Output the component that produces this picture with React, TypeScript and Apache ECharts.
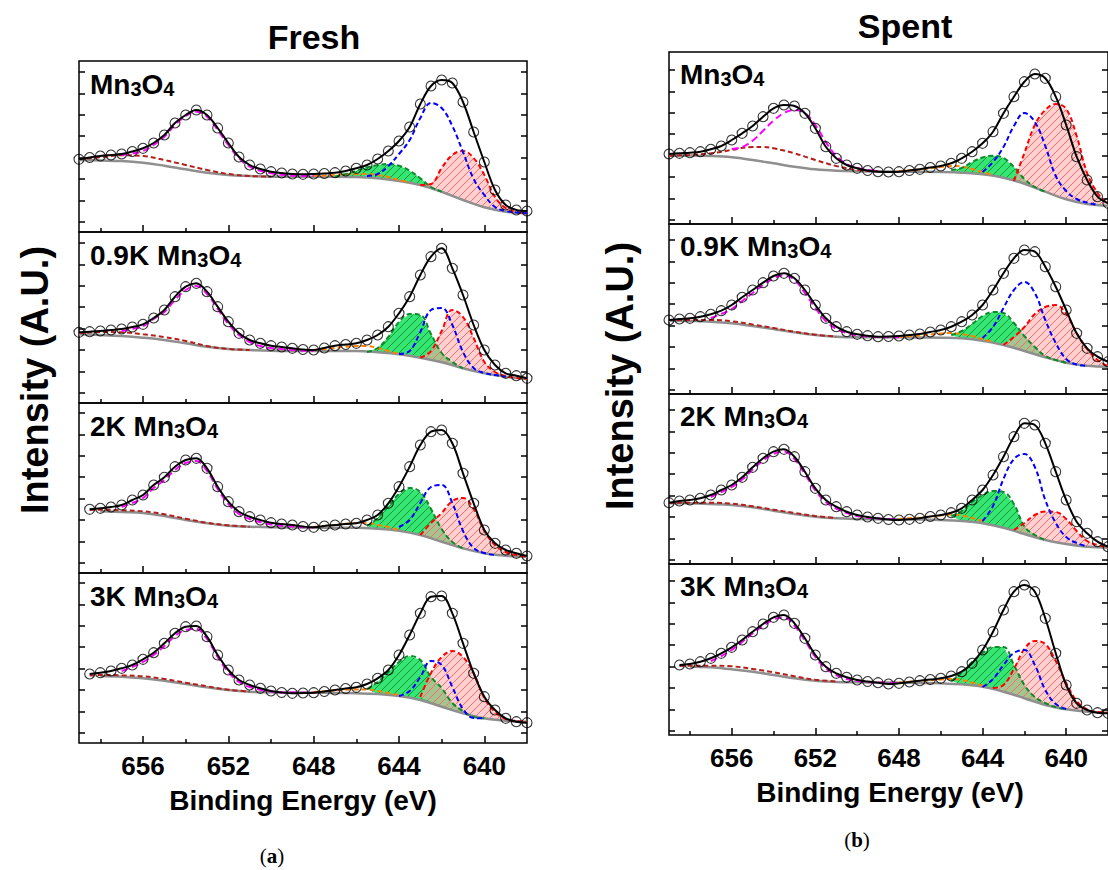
import React, { useEffect, useRef } from 'react';
import * as echarts from 'echarts';

type Pair = [number, number];

// Binding-energy grids (eV)
const E_HALF = [659, 658.5, 658, 657.5, 657, 656.5, 656, 655.5, 655, 654.5, 654, 653.5, 653, 652.5, 652, 651.5, 651, 650.5, 650, 649.5, 649, 648.5, 648, 647.5, 647, 646.5, 646, 645.5, 645, 644.5, 644, 643.5, 643, 642.5, 642, 641.5, 641, 640.5, 640, 639.5, 639, 638.5, 638];
const E_ONE = [659, 658, 657, 656, 655, 654, 653, 652, 651, 650, 649, 648, 647, 646, 645, 644, 643, 642, 641, 640, 639, 638];
const MAJOR_TICKS = [640, 644, 648, 652, 656];
const MINOR_TICKS = [642, 646, 650, 654, 658];

const PANEL_TITLES = ['Fresh', 'Spent'];
const SAMPLE_PREFIX = ['', '0.9K ', '2K ', '3K '];

// ---------- Fresh ----------
const F1_ENV = [72.7, 74.5, 76, 77, 78, 80.5, 83.7, 89, 97, 109, 117, 122, 117, 104, 89, 75, 67, 63, 60.3, 59, 58, 57.7, 58, 58.5, 59.3, 61, 63.7, 67, 73, 81, 91, 105, 128, 146, 152, 149, 130, 100, 70, 42, 27, 22, 21];
const F1_BG = [72, 71.5, 71, 69.3, 66.3, 62.7, 59.3, 57, 56, 55.3, 55.3, 55.3, 55.3, 55, 53.7, 51, 47, 40.3, 32, 24.7, 20.3, 18.7];
const F1_SAT: Pair[] = [[659, 72.7], [658, 74.7], [657, 76.7], [656, 76], [655, 72], [654, 67], [653, 62], [652, 58], [651, 56], [650, 55.3]];
const F1_MAG: Pair[] = [[657, 77], [656.5, 78.5], [656, 81], [655.5, 87], [655, 95.3], [654.5, 107], [654, 116], [653.5, 120.3], [653, 115.3], [652.5, 102], [652, 87], [651.5, 73.7], [651, 65.3], [650.5, 61.3], [650, 58.7], [649, 56.3], [648, 56]];
const F1_ORG: Pair[] = [[648, 56], [647, 57], [646, 58], [645.5, 58], [645, 57], [644.5, 55], [644, 52], [643.5, 49.5]];
const F1_GRN: Pair[] = [[647, 55.3], [646.5, 58], [646, 61.3], [645.5, 64.7], [645, 67], [644.5, 68], [644, 66.3], [643.5, 61.3], [643, 53.7], [642.5, 45], [642, 40.3]];
const F1_RED: Pair[] = [[643, 47], [642.5, 48], [642, 64], [641.5, 77], [641, 81], [640.5, 74], [640, 57], [639.5, 35], [639, 24], [638.5, 20], [638, 18.7]];
const F1_BLU: Pair[] = [[645.5, 56], [645, 58], [644.5, 66], [644, 78], [643.5, 92], [643, 114], [642.5, 129], [642, 124], [641.5, 106], [641, 80], [640.5, 53], [640, 37], [639.5, 25], [639, 21], [638.5, 19.5], [638, 18.7]];

const F2_ENV = [70.7, 71.3, 72, 73, 74, 76, 78.7, 85, 93, 106.3, 116.3, 119.7, 111.3, 96.3, 81.3, 69.7, 63, 59.7, 57.3, 56, 54.7, 53.5, 53, 55, 57.3, 58.5, 59.7, 63, 68, 76.3, 89.7, 106.3, 128, 146.3, 154.7, 134.7, 108, 78, 53, 38, 29.7, 27.3, 24.7];
const F2_BG = [68.7, 68, 67, 65.3, 63, 59.7, 56.3, 54, 53, 52.3, 52, 52, 52, 52, 50.7, 48.7, 45.3, 40.7, 34.7, 29.7, 26.3, 24];
const F2_SAT: Pair[] = [[659, 69.7], [658, 71], [657, 70.7], [656, 68.7], [655, 66], [654, 62], [653, 57], [652, 54], [651, 53]];
const F2_MAG: Pair[] = [[657, 72], [656.5, 74], [656, 76.7], [655.5, 84], [655, 91], [654.5, 103], [654, 113], [653.5, 117], [653, 109], [652.5, 94], [652, 79], [651.5, 68], [651, 61], [650.5, 57], [650, 55], [649, 53], [648, 52]];
const F2_ORG: Pair[] = [[648, 53], [647, 55], [646, 57], [645.5, 57], [645, 55], [644.5, 52], [644, 49]];
const F2_GRN: Pair[] = [[645.5, 51], [645, 55], [644.5, 66], [644, 81], [643.5, 89], [643, 88], [642.5, 69], [642, 50], [641.5, 41], [641, 34.7]];
const F2_RED: Pair[] = [[643, 45.3], [642.5, 52], [642, 72], [641.5, 93], [641, 86], [640.5, 65], [640, 41], [639.5, 31], [639, 27], [638.5, 25], [638, 24]];
const F2_BLU: Pair[] = [[644, 49], [643.5, 52], [643, 71], [642.5, 93], [642, 95], [641.5, 78], [641, 51], [640.5, 35], [640, 30], [639.5, 28], [639, 26.3]];

const F3_ENV = [null, 63.7, 64.7, 66, 68, 73, 78, 88, 95.7, 106.3, 113, 114.7, 104.7, 86.3, 71.3, 61.3, 56.3, 53, 50.3, 49, 48, 46.5, 45.7, 47, 48, 49, 49.7, 53, 58, 69.7, 86.3, 106.3, 128, 141.3, 143, 129.7, 99.7, 69.7, 43, 29.7, 23, 19.7, 17];
const F3_BG = [null, 61.7, 61, 60, 57, 53, 49.7, 47.3, 46.3, 45.7, 45.5, 45.3, 45.3, 45.3, 44.3, 42.3, 38, 31.3, 24.7, 19.7, 17.3, 16.3];
const F3_SAT: Pair[] = [[658.5, 63], [658, 63.3], [657, 62.7], [656, 61.7], [655, 58.7], [654, 54.3], [653, 50.3], [652, 47.7], [651, 46.3]];
const F3_MAG: Pair[] = [[657, 66], [656.5, 70], [656, 75], [655.5, 85], [655, 93], [654.5, 103], [654, 110], [653.5, 112], [653, 102], [652.5, 84], [652, 69], [651.5, 59], [651, 54], [650, 48.5], [649, 46.5], [648, 45.5]];
const F3_ORG: Pair[] = [[648, 46], [647, 48], [646, 50], [645.5, 50], [645, 48], [644.5, 46], [644, 43]];
const F3_GRN: Pair[] = [[645.5, 47], [645, 55], [644.5, 67], [644, 79], [643.5, 85], [643, 81], [642.5, 64], [642, 44], [641.5, 31], [641, 24.7]];
const F3_RED: Pair[] = [[643, 38], [642.5, 50], [642, 60], [641.5, 72], [641, 75], [640.5, 64], [640, 42], [639.5, 28], [639, 21], [638.5, 18], [638, 16.3]];
const F3_BLU: Pair[] = [[644, 46], [643.5, 53], [643, 70], [642.5, 86], [642, 88], [641.5, 70], [641, 42], [640.5, 25], [640, 20], [639.5, 18]];

const F4_ENV = [null, 69, 70.3, 72, 74.7, 78, 83.7, 90.3, 99.7, 109.7, 116.3, 117, 106.3, 88, 73, 63, 58, 54.7, 52, 50.5, 49.7, 50, 50.3, 51.5, 53, 54.5, 55.7, 59, 64.7, 73, 88, 108, 129.7, 146.3, 147, 129.7, 99.7, 69.7, 46.3, 33, 24.7, 21.3, 20.3];
const F4_BG = [null, 67, 66.3, 64.7, 62.3, 59, 55.7, 53, 51.3, 50.7, 50.5, 50.3, 50, 49.7, 49, 47, 43, 36.3, 29.7, 24.7, 22.3, 21.3];
const F4_SAT: Pair[] = [[658.5, 67.5], [658, 68], [657, 67.7], [656, 66.7], [655, 64], [654, 60.3], [653, 56.7], [652, 53.3], [651, 51.5]];
const F4_MAG: Pair[] = [[657, 72], [656.5, 76], [656, 81], [655.5, 88], [655, 97], [654.5, 107], [654, 113], [653.5, 114], [653, 104], [652.5, 86], [652, 71], [651.5, 61], [651, 56], [650, 51.5], [649, 50.5], [648, 50.3]];
const F4_ORG: Pair[] = [[648, 51], [647, 52.5], [646, 53.5], [645.5, 53.5], [645, 52], [644.5, 50], [644, 48]];
const F4_GRN: Pair[] = [[645.5, 54], [645, 61], [644.5, 71], [644, 81], [643.5, 87], [643, 83], [642.5, 66], [642, 55], [641.5, 40], [641, 32], [640.5, 26], [640, 24.7]];
const F4_RED: Pair[] = [[643, 46], [642.5, 70], [642, 86], [641.5, 92], [641, 86], [640.5, 70], [640, 45], [639.5, 31], [639, 24], [638.5, 22], [638, 21.3]];
const F4_BLU: Pair[] = [[644, 47], [643.5, 52], [643, 66], [642.5, 82], [642, 78], [641.5, 56], [641, 34], [640.5, 25], [640, 24.7]];

// ---------- Spent ----------
const S1_ENV = [70, 70.7, 71.3, 72.3, 74.7, 78, 84, 90.7, 98, 107.3, 115.7, 119, 118, 110.7, 95.7, 77.3, 65.7, 59, 55.7, 53.5, 52.3, 52, 52.3, 53.5, 54.7, 56.5, 58, 60.7, 65.7, 72.3, 80.7, 92.3, 110.7, 127.3, 142.3, 150, 145.7, 127.3, 99, 67.3, 44, 27.3, 20.7];
const S1_BG = [68.3, 68.5, 68, 66.7, 64, 60.7, 57.3, 54.7, 53.3, 52.7, 52.5, 52.3, 52.2, 52, 51.3, 49.7, 46.3, 40.3, 32.3, 24.7, 20, 18.3];
const S1_SAT: Pair[] = [[659, 68.3], [658, 69], [657, 70.7], [656, 74], [655, 77], [654.5, 77], [654, 75.7], [653, 70.7], [652, 64], [651, 58], [650, 54], [649, 52.7]];
const S1_MAG: Pair[] = [[656, 75], [655.5, 77], [655, 83.3], [654.5, 93.3], [654, 103.3], [653.5, 111], [653, 114], [652.5, 111], [652, 99], [651.5, 82], [651, 68], [650.5, 60], [650, 56], [649, 53]];
const S1_ORG: Pair[] = [[648, 53], [647, 54.5], [646, 57], [645.5, 58], [645, 57.5], [644.5, 55], [644, 52], [643.5, 49]];
const S1_GRN: Pair[] = [[645.5, 54], [645, 56], [644.5, 62], [644, 66.5], [643.5, 68.3], [643, 66], [642.5, 57], [642, 45], [641.5, 37], [641, 32.3]];
const S1_RED: Pair[] = [[642.5, 43], [642, 71], [641.5, 99], [641, 114], [640.5, 120], [640, 115], [639.5, 88], [639, 51], [638.5, 31], [638, 20]];
const S1_BLU: Pair[] = [[644, 52], [643.5, 62], [643, 77], [642.5, 98], [642, 111], [641.5, 102], [641, 78], [640.5, 48], [640, 33], [639.5, 25], [639, 21.5], [638.5, 19]];

const S2_ENV = [74, 75, 75.7, 77.3, 79.7, 83.3, 89, 96.7, 104, 111.3, 118, 120.7, 115.7, 104, 89, 75.7, 67.3, 62.3, 59.7, 58.3, 57.3, 57.5, 58, 59, 60, 62, 64, 67.3, 72.3, 79, 89, 104, 120.7, 135.7, 144, 142.3, 127.3, 107.3, 84, 60.7, 45.7, 37.3, 32.3];
const S2_BG = [73.3, 73, 72.3, 70.7, 68, 65, 61.7, 59, 57.3, 56.7, 56.7, 56.7, 56.5, 56.3, 55.7, 53.3, 49, 43, 36.7, 31.3, 28.3, 27.3];
const S2_SAT: Pair[] = [[659, 74], [658, 74], [657, 74], [656, 72.7], [655, 69.5], [654, 66], [653, 62.3], [652, 59.3], [651, 57.5]];
const S2_MAG: Pair[] = [[657, 76], [656.5, 80], [656, 85], [655.5, 93], [655, 101], [654.5, 109], [654, 115.5], [653.5, 118.5], [653, 114], [652.5, 101], [652, 86], [651.5, 73], [651, 65], [650.5, 61], [650, 58.5], [649, 57], [648, 56.7]];
const S2_ORG: Pair[] = [[648, 57], [647, 58.5], [646, 60.5], [645.5, 61], [645, 60], [644.5, 58], [644, 55], [643.5, 52]];
const S2_GRN: Pair[] = [[645.5, 59], [645, 63], [644.5, 70], [644, 78], [643.5, 82], [643, 81], [642.5, 71], [642, 58], [641.5, 47], [641, 38], [640.5, 34], [640, 31.3]];
const S2_RED: Pair[] = [[643, 49], [642.5, 57], [642, 67], [641.5, 80], [641, 87], [640.5, 89], [640, 80], [639.5, 61], [639, 45], [638.5, 34], [638, 28]];
const S2_BLU: Pair[] = [[644, 56], [643.5, 67], [643, 86], [642.5, 104], [642, 112], [641.5, 101], [641, 74], [640.5, 51], [640, 35], [639.5, 29.5], [639, 28.3]];

const S3_ENV = [61.3, 63, 64, 65.7, 69, 74, 79, 86.7, 96.7, 105.7, 112.3, 114.7, 107.3, 92.3, 75.7, 64, 57.3, 52.3, 49, 47, 45.7, 44.5, 44, 44.7, 45.7, 47.5, 49, 51.3, 55.7, 64, 74, 89, 107.3, 127.3, 140.7, 139, 120.7, 92.3, 64, 42.3, 30.7, 22.3, 17.3];
const S3_BG = [60.7, 60.7, 60, 59, 56.7, 53.3, 50, 47.3, 45.7, 45, 44.8, 44.7, 44.5, 44, 43, 40.7, 36.3, 30, 24, 20, 17.3, 16.3];
const S3_SAT: Pair[] = [[659, 61], [658, 61.3], [657, 61.3], [656, 60.3], [655, 57.7], [654, 54.3], [653, 51], [652, 48], [651, 46]];
const S3_MAG: Pair[] = [[657, 67], [656.5, 72], [656, 77], [655.5, 84.5], [655, 94.5], [654.5, 103.5], [654, 110], [653.5, 112.5], [653, 105], [652.5, 90], [652, 73.5], [651.5, 62], [651, 55.5], [650.5, 51], [650, 48], [649, 45.5], [648, 44.7]];
const S3_ORG: Pair[] = [[648, 45], [647, 46.5], [646, 48.5], [645.5, 49.5], [645, 48.5], [644.5, 46], [644, 43]];
const S3_GRN: Pair[] = [[645.5, 48], [645, 53], [644.5, 62], [644, 69], [643.5, 73], [643, 72], [642.5, 60], [642, 37.5], [641.5, 29], [641, 24]];
const S3_RED: Pair[] = [[642.5, 34], [642, 41], [641.5, 49], [641, 52.5], [640.5, 52], [640, 45], [639.5, 33], [639, 23], [638.5, 19], [638, 16.3]];
const S3_BLU: Pair[] = [[644, 43], [643.5, 58], [643, 85], [642.5, 105], [642, 110], [641.5, 97], [641, 64], [640.5, 41], [640, 27], [639.5, 21], [639, 17.5]];

const S4_ENV = [null, 70, 71, 73.3, 76.7, 81.7, 87.7, 95, 103.3, 111, 117.7, 120, 111.7, 96.7, 80, 68.3, 61.7, 57.7, 55, 53.5, 52.3, 51, 51.7, 53, 54.3, 55.5, 56.7, 59, 63.3, 71.7, 85, 103.3, 125, 143.3, 150, 143.3, 116.7, 81.7, 50, 31.7, 25, 22.3, 21.7];
const S4_BG = [null, 68.3, 67.7, 65.7, 63.3, 60, 56.7, 54.3, 53, 52.7, 52.5, 52.3, 52, 51.7, 50.7, 48.3, 43.3, 36.7, 30, 25.7, 23.3, 22.3];
const S4_SAT: Pair[] = [[658.5, 69], [658, 69.3], [657, 69.3], [656, 68.7], [655, 66], [654, 62.7], [653, 58.7], [652, 55.3], [651, 53.5]];
const S4_MAG: Pair[] = [[657, 74], [656.5, 79], [656, 85], [655.5, 93], [655, 101.5], [654.5, 109], [654, 115.5], [653.5, 117.5], [653, 109.5], [652.5, 94.5], [652, 78], [651.5, 66.5], [651, 60], [650.5, 56], [650, 54], [649, 52.5], [648, 52.3]];
const S4_ORG: Pair[] = [[648, 52.5], [647, 54], [646, 55.5], [645.5, 56], [645, 55], [644.5, 52.5], [644, 49.5]];
const S4_GRN: Pair[] = [[645.5, 54], [645, 62], [644.5, 73], [644, 82], [643.5, 88], [643, 88], [642.5, 70], [642, 50], [641.5, 38], [641, 32], [640.5, 28], [640, 25.7]];
const S4_RED: Pair[] = [[643.5, 47], [643, 50], [642.5, 66], [642, 86], [641.5, 94], [641, 91], [640.5, 74], [640, 52], [639.5, 34], [639, 25.5], [638.5, 23], [638, 22.3]];
const S4_BLU: Pair[] = [[644, 48], [643.5, 56], [643, 70], [642.5, 82], [642, 85], [641.5, 70], [641, 45], [640.5, 31], [640, 26]];

const FRESH_SUBS = [
  { env: F1_ENV, bg: F1_BG, sat: F1_SAT, mag: F1_MAG, org: F1_ORG, grn: F1_GRN, red: F1_RED, blu: F1_BLU },
  { env: F2_ENV, bg: F2_BG, sat: F2_SAT, mag: F2_MAG, org: F2_ORG, grn: F2_GRN, red: F2_RED, blu: F2_BLU },
  { env: F3_ENV, bg: F3_BG, sat: F3_SAT, mag: F3_MAG, org: F3_ORG, grn: F3_GRN, red: F3_RED, blu: F3_BLU },
  { env: F4_ENV, bg: F4_BG, sat: F4_SAT, mag: F4_MAG, org: F4_ORG, grn: F4_GRN, red: F4_RED, blu: F4_BLU },
];
const SPENT_SUBS = [
  { env: S1_ENV, bg: S1_BG, sat: S1_SAT, mag: S1_MAG, org: S1_ORG, grn: S1_GRN, red: S1_RED, blu: S1_BLU },
  { env: S2_ENV, bg: S2_BG, sat: S2_SAT, mag: S2_MAG, org: S2_ORG, grn: S2_GRN, red: S2_RED, blu: S2_BLU },
  { env: S3_ENV, bg: S3_BG, sat: S3_SAT, mag: S3_MAG, org: S3_ORG, grn: S3_GRN, red: S3_RED, blu: S3_BLU },
  { env: S4_ENV, bg: S4_BG, sat: S4_SAT, mag: S4_MAG, org: S4_ORG, grn: S4_GRN, red: S4_RED, blu: S4_BLU },
];

// ---------- layout / style ----------
const SANS = "'Liberation Sans', Arial, Helvetica, sans-serif";
const SERIF = "'Liberation Serif', 'Times New Roman', serif";
const PANELS = [
  { subs: FRESH_SUBS, left: 79, width: 448, tops: [61, 232, 403, 573], heights: [171, 171, 170, 170], tickOffset: 10,
    title: { x: 314, y: 37 }, ylab: { x: 35, y: 380 }, xlab: { x: 303, y: 800 }, tag: { x: 272, y: 856, t: 'a' }, labX: 90, labDy: 8 },
  { subs: SPENT_SUBS, left: 669, width: 442, tops: [52, 224, 394, 564], heights: [172, 170, 170, 171], tickOffset: 4,
    title: { x: 905, y: 26 }, ylab: { x: 620, y: 376 }, xlab: { x: 890, y: 792 }, tag: { x: 857, y: 840, t: 'b' }, labX: 680, labDy: 7 },
];

function zip(es: number[], vs: (number | null)[]): Pair[] {
  const out: Pair[] = [];
  es.forEach((e, i) => {
    const v = vs[i];
    if (v !== null && v !== undefined) out.push([e, v]);
  });
  return out;
}

function fillSeries(xi: number, yi: number, comp: Pair[], bg: Pair[], fill: string, hatch: string, z: number) {
  const eMax = comp[0][0];
  const eMin = comp[comp.length - 1][0];
  const inner = bg.filter((p) => p[0] < eMax && p[0] > eMin);
  return {
    type: 'custom',
    xAxisIndex: xi,
    yAxisIndex: yi,
    coordinateSystem: 'cartesian2d',
    data: comp,
    z,
    silent: true,
    renderItem: (params: any, api: any) => {
      if (params.dataIndex !== 0) return null;
      const pts: number[][] = comp.map((p) => api.coord(p)).concat(inner.slice().reverse().map((p) => api.coord(p)));
      const sums = pts.map((p) => p[0] + p[1]);
      const cmin = Math.min(...sums);
      const cmax = Math.max(...sums);
      const step = 8;
      const children: any[] = [
        { type: 'polygon', shape: { points: pts }, style: { fill, stroke: null } },
      ];
      for (let c = Math.ceil(cmin / step) * step; c <= cmax; c += step) {
        const xs: number[][] = [];
        for (let k = 0; k < pts.length; k++) {
          const a = pts[k];
          const b = pts[(k + 1) % pts.length];
          const fa = a[0] + a[1] - c;
          const fb = b[0] + b[1] - c;
          if ((fa < 0 && fb >= 0) || (fa >= 0 && fb < 0)) {
            const t = fa / (fa - fb);
            xs.push([a[0] + t * (b[0] - a[0]), a[1] + t * (b[1] - a[1])]);
          }
        }
        xs.sort((u, v) => u[0] - v[0]);
        for (let m = 0; m + 1 < xs.length; m += 2) {
          children.push({
            type: 'line',
            shape: { x1: xs[m][0], y1: xs[m][1], x2: xs[m + 1][0], y2: xs[m + 1][1] },
            style: { stroke: hatch, lineWidth: 1 },
          });
        }
      }
      return { type: 'group', children };
    },
  };
}

function dashed(xi: number, yi: number, data: Pair[], color: string, z: number, dash: number[] = [5, 3]) {
  return {
    type: 'line', xAxisIndex: xi, yAxisIndex: yi, data, smooth: 0.4, showSymbol: false, silent: true, z,
    lineStyle: { color, width: 2, type: dash }, animation: false,
  };
}

function buildOption() {
  const grid: any[] = [];
  const xAxis: any[] = [];
  const yAxis: any[] = [];
  const series: any[] = [];
  const graphic: any[] = [];

  PANELS.forEach((panel, p) => {
    panel.subs.forEach((sub, s) => {
      const g = grid.length;
      const top = panel.tops[s];
      const h = panel.heights[s];
      grid.push({ left: panel.left, top, width: panel.width, height: h, show: true, borderColor: '#000', borderWidth: 1.5, backgroundColor: 'transparent' });
      const isLast = s === panel.subs.length - 1;
      const xBase = {
        gridIndex: g, type: 'value', min: 638, max: 659, inverse: true, position: 'bottom',
        axisLine: { show: false, onZero: false }, splitLine: { show: false },
      };
      xAxis.push({
        ...xBase,
        axisTick: { show: true, inside: true, length: 7, customValues: MAJOR_TICKS, lineStyle: { color: '#000', width: 1.5 } },
        axisLabel: { show: isLast, customValues: MAJOR_TICKS, color: '#000', fontFamily: SANS, fontWeight: 'bold', fontSize: 26, margin: 10 },
      });
      xAxis.push({
        ...xBase,
        axisTick: { show: true, inside: true, length: 4, customValues: MINOR_TICKS, lineStyle: { color: '#000', width: 1.5 } },
        axisLabel: { show: false },
      });
      const yTicks = [0, 1, 2, 3, 4, 5, 6, 7].map((k) => panel.tickOffset + 21.45 * k);
      const yBase = {
        gridIndex: g, type: 'value', min: 0, max: h,
        axisLine: { show: false, onZero: false }, splitLine: { show: false }, axisLabel: { show: false },
        axisTick: { show: true, inside: true, length: 6, customValues: yTicks, lineStyle: { color: '#000', width: 1.5 } },
      };
      yAxis.push({ ...yBase, position: 'left' });
      yAxis.push({ ...yBase, position: 'right' });

      const xi = 2 * g;
      const yi = 2 * g;
      const bg = zip(E_ONE, sub.bg);
      const env = zip(E_HALF, sub.env);

      series.push(fillSeries(xi, yi, sub.grn, bg, '#36e672', '#17963a', 1));
      series.push(fillSeries(xi, yi, sub.red, bg, 'rgba(255,170,170,0.55)', '#ff6b6b', 2));
      series.push({
        type: 'line', xAxisIndex: xi, yAxisIndex: yi, data: bg, smooth: 0.4, showSymbol: false, silent: true, z: 3,
        lineStyle: { color: '#8f8f8f', width: 2.5 },
      });
      series.push(dashed(xi, yi, sub.sat, '#b3201c', 4));
      series.push(dashed(xi, yi, sub.org, '#ff8000', 4));
      series.push(dashed(xi, yi, sub.grn, '#0d8a2c', 4));
      series.push(dashed(xi, yi, sub.red, '#ff0000', 4));
      series.push(dashed(xi, yi, sub.blu, '#0000ff', 5));
      series.push(dashed(xi, yi, sub.mag, '#ff00ff', 5, [7, 4]));
      series.push({
        type: 'scatter', xAxisIndex: xi, yAxisIndex: yi, data: env, symbol: 'circle', symbolSize: 10, silent: true, z: 6,
        itemStyle: { color: 'rgba(255,255,255,0)', borderColor: '#000', borderWidth: 1.1 },
      });
      series.push({
        type: 'line', xAxisIndex: xi, yAxisIndex: yi, data: env, smooth: 0.35, showSymbol: false, silent: true, z: 7,
        lineStyle: { color: '#000', width: 2 },
      });

      graphic.push({
        type: 'text', x: panel.labX, y: top + panel.labDy, z: 100,
        style: {
          text: `{m|${SAMPLE_PREFIX[s]}Mn}{s|3}{m|O}{s|4}`,
          align: 'left', verticalAlign: 'top', textAlign: 'left', textVerticalAlign: 'top',
          rich: {
            m: { fontFamily: SANS, fontWeight: 'bold', fontSize: 28, lineHeight: 30, fill: '#000', color: '#000' },
            s: { fontFamily: SANS, fontWeight: 'bold', fontSize: 20, lineHeight: 8, verticalAlign: 'bottom', fill: '#000', color: '#000' },
          },
        },
      });
    });

    graphic.push({
      type: 'text', x: panel.title.x, y: panel.title.y,
      style: { text: PANEL_TITLES[p], fontFamily: SANS, fontWeight: 'bold', fontSize: 34, fill: '#000', align: 'center', verticalAlign: 'middle', textAlign: 'center', textVerticalAlign: 'middle' },
    });
    graphic.push({
      type: 'text', x: panel.ylab.x, y: panel.ylab.y, rotation: Math.PI / 2,
      style: { text: 'Intensity (A.U.)', fontFamily: SANS, fontWeight: 'bold', fontSize: 38, fill: '#000', align: 'center', verticalAlign: 'middle', textAlign: 'center', textVerticalAlign: 'middle' },
    });
    graphic.push({
      type: 'text', x: panel.xlab.x, y: panel.xlab.y,
      style: { text: 'Binding Energy (eV)', fontFamily: SANS, fontWeight: 'bold', fontSize: 28, fill: '#000', align: 'center', verticalAlign: 'middle', textAlign: 'center', textVerticalAlign: 'middle' },
    });
    graphic.push({
      type: 'text', x: panel.tag.x, y: panel.tag.y,
      style: {
        text: `{n|(}{b|${panel.tag.t}}{n|)}`,
        align: 'center', verticalAlign: 'middle', textAlign: 'center', textVerticalAlign: 'middle',
        rich: {
          n: { fontFamily: SERIF, fontSize: 21, fill: '#000', color: '#000' },
          b: { fontFamily: SERIF, fontSize: 21, fontWeight: 'bold', fill: '#000', color: '#000' },
        },
      },
    });
  });

  return { animation: false, backgroundColor: '#fff', grid, xAxis, yAxis, series, graphic };
}

export default function App() {
  const ref = useRef<HTMLDivElement>(null);
  useEffect(() => {
    if (!ref.current) return;
    const chart = echarts.init(ref.current, undefined, { renderer: 'svg' });
    chart.setOption(buildOption() as any);
    return () => chart.dispose();
  }, []);
  return <div ref={ref} style={{ position: 'fixed', left: 0, top: 0, width: 1108, height: 870, background: '#fff' }} />;
}
